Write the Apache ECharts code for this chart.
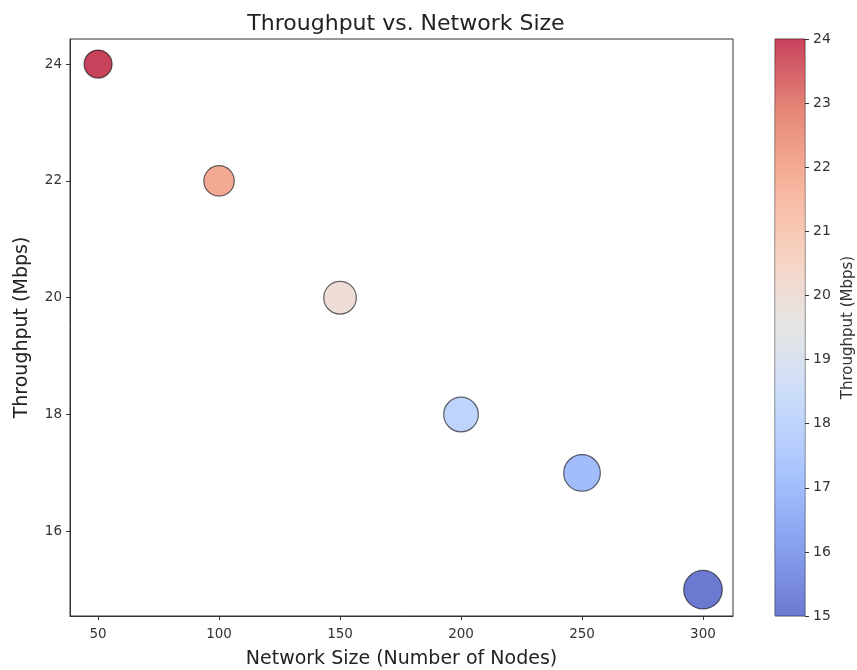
<!DOCTYPE html>
<html>
<head>
<meta charset="utf-8">
<script src="https://cdn.jsdelivr.net/npm/echarts@6/dist/echarts.min.js"></script>
<style>html,body{margin:0;padding:0;background:#fff}#c{width:857px;height:670px}</style>
</head>
<body>
<div id="c"></div>
<script>
// ---- data ----
const networkSize = [50, 100, 150, 200, 250, 300];
const throughput = [24, 22, 20, 18, 17, 15];
const xTicks = [50, 100, 150, 200, 250, 300];
const yTicks = [16, 18, 20, 22, 24];
const cbarMin = 15, cbarMax = 24;

// coolwarm colormap stops
const coolwarm = [
  [59,76,192],[98,130,234],[141,176,254],[184,208,249],[221,221,221],
  [245,196,173],[244,154,123],[222,96,77],[180,4,38]
];
const A = 0.75;
const rgba = c => `rgba(${c[0]},${c[1]},${c[2]},${A})`;
const cmapColors = coolwarm.map(rgba);

const font = 'DejaVu Sans';
const chart = echarts.init(document.getElementById('c'));
const gradStops = coolwarm.slice().reverse().map((c, i) => ({offset: i / (coolwarm.length - 1), color: rgba(c)}));

chart.setOption({
  animation: false,
  backgroundColor: '#fff',
  textStyle: {fontFamily: font},
  title: {
    text: 'Throughput vs. Network Size',
    left: 401, top: 8, textAlign: 'center',
    textStyle: {fontFamily: font, fontSize: 22, fontWeight: 'normal', color: '#222'}
  },
  grid: [
    {left: 70, top: 39, width: 663, height: 577, show: true, borderColor: '#333', borderWidth: 1,
     backgroundColor: 'transparent', outerBoundsMode: 'none', containLabel: false},
    {left: 775, top: 39, width: 30, height: 577, show: true, borderColor: '#555', borderWidth: 1,
     backgroundColor: 'transparent', outerBoundsMode: 'none', containLabel: false}
  ],
  xAxis: [
    {
      gridIndex: 0, type: 'value', min: 38.4, max: 312.4,
      name: 'Network Size (Number of Nodes)', nameLocation: 'middle', nameGap: 34,
      nameTextStyle: {fontFamily: font, fontSize: 19, color: '#222'},
      axisLine: {show: true, onZero: false, lineStyle: {color: '#333'}},
      axisTick: {show: true, inside: false, length: 4, customValues: xTicks, lineStyle: {color: '#333'}},
      axisLabel: {customValues: xTicks, fontFamily: font, fontSize: 13.5, color: '#333', margin: 11},
      splitLine: {show: false}
    },
    {gridIndex: 1, type: 'value', min: 0, max: 1, show: false}
  ],
  yAxis: [
    {
      gridIndex: 0, type: 'value', min: 14.55, max: 24.43,
      name: 'Throughput (Mbps)', nameLocation: 'middle', nameGap: 38, nameRotate: 90,
      nameTextStyle: {fontFamily: font, fontSize: 19, color: '#222'},
      axisLine: {show: true, onZero: false, lineStyle: {color: '#333'}},
      axisTick: {show: true, inside: false, length: 4, customValues: yTicks, lineStyle: {color: '#333'}},
      axisLabel: {customValues: yTicks, fontFamily: font, fontSize: 13.5, color: '#333', margin: 8},
      splitLine: {show: false}
    },
    {
      gridIndex: 1, type: 'value', min: cbarMin, max: cbarMax, interval: 1, position: 'right',
      name: 'Throughput (Mbps)', nameLocation: 'middle', nameGap: 36, nameRotate: 90,
      nameTextStyle: {fontFamily: font, fontSize: 15, color: '#333'},
      axisLine: {show: false, onZero: false},
      axisTick: {show: true, inside: false, length: 4, lineStyle: {color: '#333'}},
      axisLabel: {fontFamily: font, fontSize: 14, color: '#333', margin: 8},
      splitLine: {show: false}
    }
  ],
  visualMap: {
    show: false, type: 'continuous', seriesIndex: 0, dimension: 1,
    min: cbarMin, max: cbarMax, inRange: {color: cmapColors}
  },
  series: [
    {
      type: 'scatter', xAxisIndex: 0, yAxisIndex: 0,
      data: networkSize.map((x, i) => [x, throughput[i]]),
      symbolSize: v => Math.sqrt(2.8 * (v[0] + 230)),
      itemStyle: {borderColor: 'rgba(0,0,0,0.6)', borderWidth: 1.2, opacity: 1}
    },
    {
      type: 'bar', xAxisIndex: 1, yAxisIndex: 1,
      data: [[0.5, cbarMax]], barWidth: '100%',
      itemStyle: {color: new echarts.graphic.LinearGradient(0, 0, 0, 1, gradStops)},
      silent: true
    }
  ]
});
</script>
</body>
</html>
